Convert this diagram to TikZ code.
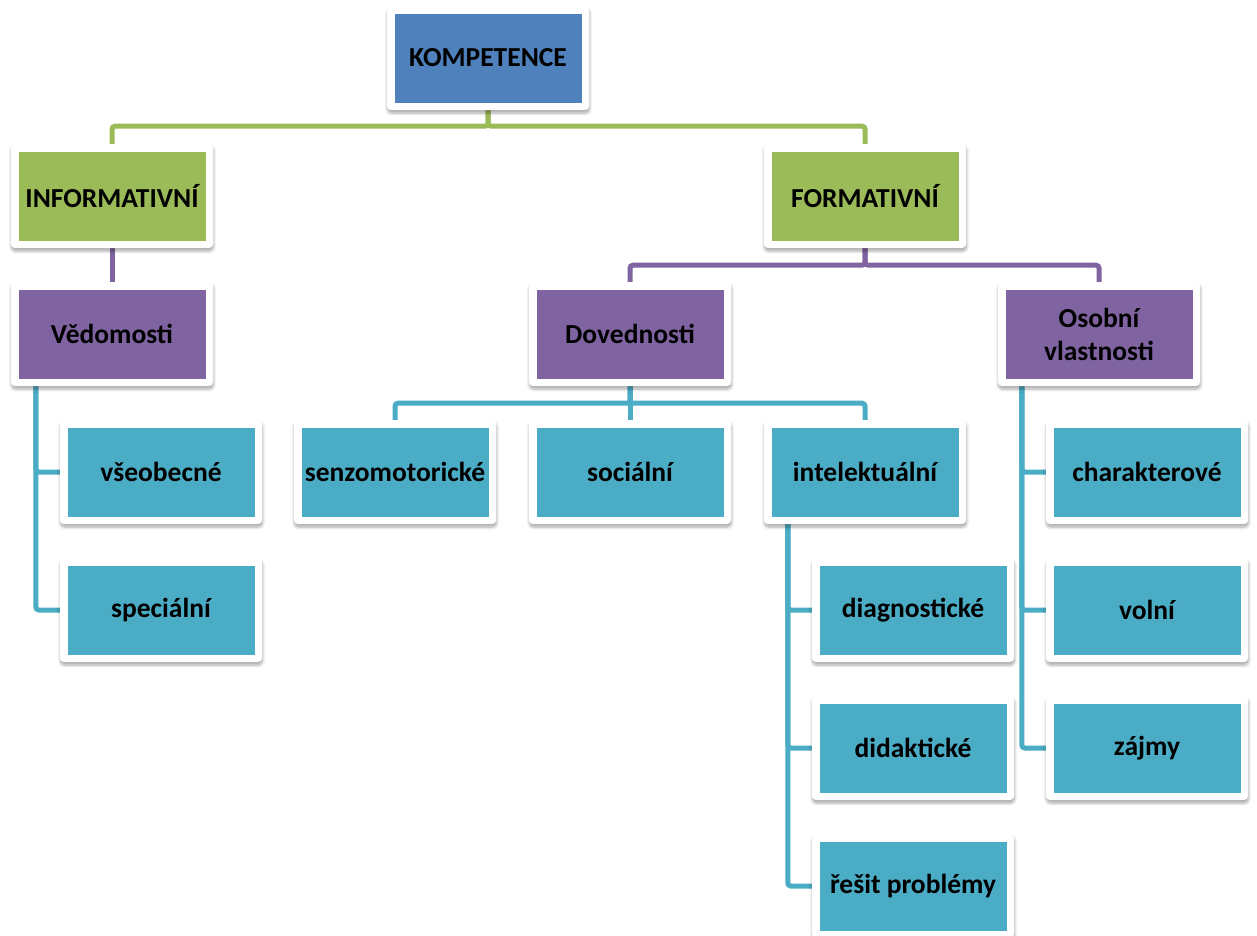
\documentclass[tikz,border=0pt]{standalone}
\usepackage{fontspec}
\setmainfont{Carlito}
\usetikzlibrary{shadows.blur,backgrounds}
\definecolor{cblue}{HTML}{4F81BD}
\definecolor{cgreen}{HTML}{9BBB59}
\definecolor{cpurple}{HTML}{8064A2}
\definecolor{cteal}{HTML}{4BACC6}
\tikzset{
 box/.style={fill=white, rounded corners=4pt, minimum width=202pt, minimum height=104pt,
   inner sep=0pt, align=center, font=\fontsize{27.5}{33}\selectfont\bfseries,
   blur shadow={shadow xshift=0.5pt, shadow yshift=-3pt, shadow blur radius=3pt, shadow blur steps=6, shadow opacity=35},
   path picture={\fill[#1, sharp corners] ([shift={(7.5pt,-7.5pt)}]path picture bounding box.north west)
     rectangle ([shift={(-7.5pt,7.5pt)}]path picture bounding box.south east);}},
 conn/.style={line width=5pt, draw=#1, rounded corners=3pt}
}
\begin{document}
\begin{tikzpicture}[x=1pt,y=-1pt]
\useasboundingbox (0,0) rectangle (1257,935);
\node[box=cblue]   (komp)  at (488,58)  {KOMPETENCE};
\node[box=cgreen]  (info)  at (112,196) {INFORMATIVNÍ};
\node[box=cgreen]  (form)  at (865,196) {FORMATIVNÍ};
\node[box=cpurple] (ved)   at (112,334) {Vědomosti};
\node[box=cpurple] (dov)   at (630,334) {Dovednosti};
\node[box=cpurple] (osob)  at (1099,334) {Osobní\\vlastnosti};
\node[box=cteal]   (vseo)  at (161,472) {všeobecné};
\node[box=cteal]   (spec)  at (161,610) {speciální};
\node[box=cteal]   (senz)  at (395,472) {senzomotorické};
\node[box=cteal]   (soc)   at (630,472) {sociální};
\node[box=cteal]   (intel) at (865,472) {intelektuální};
\node[box=cteal]   (diag)  at (913,610) {diagnostické};
\node[box=cteal]   (did)   at (913,748) {didaktické};
\node[box=cteal]   (res)   at (913,886) {řešit problémy};
\node[box=cteal]   (char)  at (1147,472) {charakterové};
\node[box=cteal]   (voln)  at (1147,610) {volní};
\node[box=cteal]   (zajm)  at (1147,748) {zájmy};
\begin{scope}[on background layer]
\draw[conn=cgreen] (komp.south) -- ++(0,16) -| (info.north);
\draw[conn=cgreen] (komp.south) -- ++(0,16) -| (form.north);
\draw[conn=cpurple] (info.south) -- (ved.north);
\draw[conn=cpurple] (form.south) -- ++(0,17) -| (dov.north);
\draw[conn=cpurple] (form.south) -- ++(0,17) -| (osob.north);
\draw[conn=cteal] (dov.south) -- ++(0,17) -| (senz.north);
\draw[conn=cteal] (dov.south) -- (soc.north);
\draw[conn=cteal] (dov.south) -- ++(0,17) -| (intel.north);
\draw[conn=cteal] ([xshift=25pt]ved.south west) |- (vseo.west);
\draw[conn=cteal] ([xshift=25pt]ved.south west) |- (spec.west);
\draw[conn=cteal] ([xshift=24pt]intel.south west) |- (diag.west);
\draw[conn=cteal] ([xshift=24pt]intel.south west) |- (did.west);
\draw[conn=cteal] ([xshift=24pt]intel.south west) |- (res.west);
\draw[conn=cteal] ([xshift=24pt]osob.south west) |- (char.west);
\draw[conn=cteal] ([xshift=24pt]osob.south west) |- (voln.west);
\draw[conn=cteal] ([xshift=24pt]osob.south west) |- (zajm.west);
\end{scope}
\end{tikzpicture}
\end{document}
